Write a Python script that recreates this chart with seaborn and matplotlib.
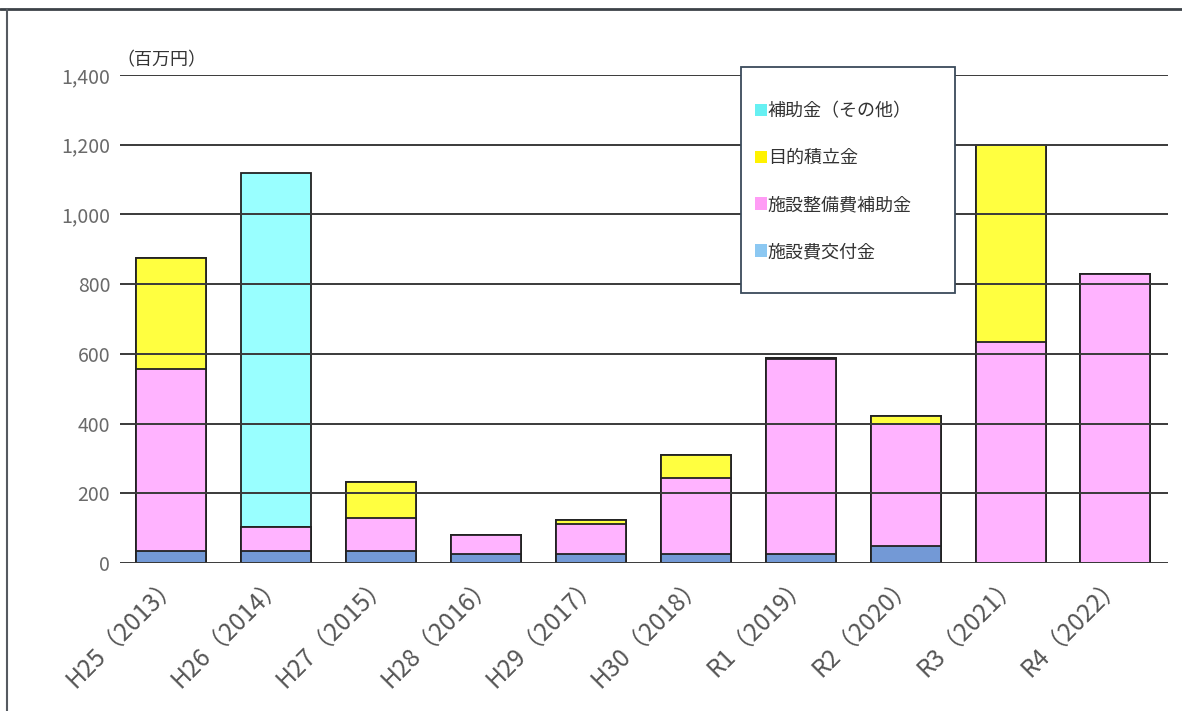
import matplotlib
matplotlib.use("Agg")
import matplotlib.pyplot as plt
import matplotlib.transforms as mtransforms
from matplotlib.patches import Rectangle, Patch
from matplotlib.lines import Line2D
from matplotlib.ticker import FuncFormatter
import seaborn as sns
import pandas as pd
import numpy as np

categories = ["H25（2013）", "H26（2014）", "H27（2015）", "H28（2016）", "H29（2017）",
              "H30（2018）", "R1（2019）", "R2（2020）", "R3（2021）", "R4（2022）"]
kofukin = [34, 34, 34, 26, 26, 26, 26, 48, 0, 0]            # 施設費交付金
seibi = [523, 69, 95, 54, 86, 218, 559, 351, 634, 830]      # 施設整備費補助金
tsumitate = [318, 0, 103, 0, 11, 66, 3, 23, 566, 0]         # 目的積立金
sonota = [0, 1016, 0, 0, 0, 0, 0, 0, 0, 0]                  # 補助金（その他）

series_names = ["施設費交付金", "施設整備費補助金", "目的積立金", "補助金（その他）"]
bar_colors = ["#7399D6", "#FFB3FF", "#FFFF40", "#99FFFF"]
legend_colors = ["#8CC8F2", "#FF9CF5", "#FFF200", "#66F0F2"]
yticks = [0, 200, 400, 600, 800, 1000, 1200, 1400]

sns.set_theme(style="white")
plt.rcParams["font.family"] = ["Noto Sans CJK JP", "DejaVu Sans"]

df = pd.DataFrame({"cat": categories, "k": kofukin, "s": seibi, "t": tsumitate, "o": sonota})
df["c1"] = df["k"]
df["c2"] = df["c1"] + df["s"]
df["c3"] = df["c2"] + df["t"]
df["c4"] = df["c3"] + df["o"]

fig = plt.figure(figsize=(11.82, 7.11), dpi=100)
ax = fig.add_axes([0.1015, 0.2082, 0.8866, 0.6863])

for col, color in zip(["c4", "c3", "c2", "c1"], bar_colors[::-1]):
    sns.barplot(data=df, x="cat", y=col, order=categories, color=color,
                saturation=1, width=0.667, edgecolor="#222222", linewidth=1.3, ax=ax)

ax.set_xlim(-0.49, 9.5)
ax.set_ylim(0, 1400)
ax.set_yticks(yticks)
ax.yaxis.set_major_formatter(FuncFormatter(lambda v, p: f"{int(v):,}"))
ax.set_xlabel("")
ax.set_ylabel("")
for s in ax.spines.values():
    s.set_visible(False)
ax.grid(axis="y", color="#3a3a3a", linewidth=1.4)
ax.grid(axis="x", visible=False)
ax.set_axisbelow(False)
ax.tick_params(axis="y", length=0, labelsize=14, labelcolor="#6a6a6a", pad=7)
ax.tick_params(axis="x", length=0, labelsize=17.5, labelcolor="#555555", pad=2)
for lab in ax.get_xticklabels():
    lab.set_rotation(45)
    lab.set_ha("right")
    lab.set_va("top")
    lab.set_rotation_mode("anchor")
    lab.set_transform(lab.get_transform() +
                      mtransforms.ScaledTranslation(-0.05, -0.05, fig.dpi_scale_trans))

ax.text(-0.003, 1.012, "（百万円）", transform=ax.transAxes, fontsize=13,
        color="#333333", ha="left", va="bottom")

# legend box
fig.patches.append(Rectangle((741 / 1182, 1 - 293 / 711), 214 / 1182, 226 / 711,
                             transform=fig.transFigure, facecolor="white",
                             edgecolor="#3a4a5a", linewidth=1.3, zorder=5))
handles = [Patch(facecolor=c, edgecolor="none") for c in legend_colors[::-1]]
leg = fig.legend(handles, series_names[::-1], loc="upper left",
                 bbox_to_anchor=(739 / 1182, 1 - 86 / 711), frameon=False,
                 fontsize=13, labelspacing=1.6, handlelength=0.65, handleheight=0.7,
                 handletextpad=0.05, labelcolor="#333333")
leg.set_zorder(6)

# outer frame lines
fig.add_artist(Line2D([0, 1], [1 - 9 / 711, 1 - 9 / 711], transform=fig.transFigure,
                      color="#3c4248", linewidth=2))
fig.add_artist(Line2D([7 / 1182, 7 / 1182], [0, 1 - 9 / 711], transform=fig.transFigure,
                      color="#555a60", linewidth=1.5))

fig.savefig("out.png", dpi=100)
